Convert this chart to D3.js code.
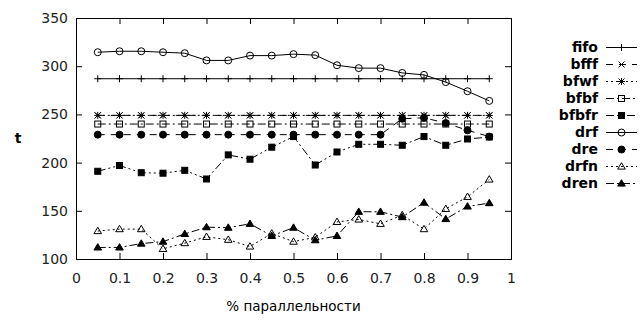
<!DOCTYPE html>
<html>
<head>
<meta charset="utf-8">
<script src="https://cdn.jsdelivr.net/npm/d3@7/dist/d3.min.js"></script>
<style>
  body { margin: 0; background: #fff; }
  svg text { font-family: "DejaVu Sans", sans-serif; }
</style>
</head>
<body>
<div id="chart"></div>
<script>
// x positions of the measured points
const xs = [0.05, 0.1, 0.15, 0.2, 0.25, 0.3, 0.35, 0.4, 0.45, 0.5,
            0.55, 0.6, 0.65, 0.7, 0.75, 0.8, 0.85, 0.9, 0.95];

const fifo  = [287, 287, 287, 287, 287, 287, 287, 287, 287, 287, 287, 287, 287, 287, 287, 287, 287, 287, 287];
const bfff  = [249, 249, 249, 249, 249, 249, 249, 249, 249, 249, 249, 249, 249, 249, 249, 249, 249, 249, 249];
const bfwf  = [249, 249, 249, 249, 249, 249, 249, 249, 249, 249, 249, 249, 249, 249, 249, 249, 249, 249, 249];
const bfbf  = [240, 240, 240, 240, 240, 240, 240, 240, 240, 240, 240, 240, 240, 240, 240, 240, 240, 240, 240];
const bfbfr = [191, 197, 189.5, 189, 192, 183, 208, 203.5, 216, 227, 197.5, 211, 219, 219, 218, 227, 218, 224.5, 226.5];
const drf   = [314.5, 315.5, 315.5, 314.5, 313.5, 306, 306, 311, 311, 312.5, 311.5, 301, 298, 298, 293, 291, 283.5, 274, 264];
const dre   = [229, 229, 229, 229, 229, 229, 229, 229, 229, 229, 229, 229, 229, 229, 245.5, 246.5, 241, 233.5, 227];
const drfn  = [129, 131, 131, 110.5, 116.5, 123, 120, 113, 126.5, 118, 122.5, 138.5, 141, 136.5, 145.5, 131, 152, 164.5, 182.5];
const dren  = [112, 112, 116, 118, 126, 133, 132.5, 136.5, 124, 132.5, 119.5, 124, 149, 149, 143.5, 158.5, 141.5, 154.5, 158];

const seriesNames = ["fifo", "bfff", "bfwf", "bfbf", "bfbfr", "drf", "dre", "drfn", "dren"];
const seriesValues = [fifo, bfff, bfwf, bfbf, bfbfr, drf, dre, drfn, dren];

const xTicks = [0, 0.1, 0.2, 0.3, 0.4, 0.5, 0.6, 0.7, 0.8, 0.9, 1];
const yTicks = [100, 150, 200, 250, 300, 350];

// line style + point type per series (gnuplot-like)
const dashes = [null, "7,6", "2,3", "8,3,2,3", "8,3,2,3,2,3", null, "7,6", "2,3", "8,3,2,3"];
const marks  = ["plus", "cross", "star", "square", "squareF", "circle", "circleF", "tri", "triF"];

const W = 640, H = 320;
const padL = 76, padR = 511, padT = 18, padB = 259;

const svg = d3.select("#chart").append("svg")
    .attr("width", W)
    .attr("height", H);

const x = d3.scaleLinear().domain([0, 1]).range([padL, padR]);
const y = d3.scaleLinear().domain([100, 350]).range([padB, padT]);

// axes with inward ticks on all 4 sides
const fmtX = d => d === 0 || d === 1 ? String(d) : d3.format(".1f")(d);

svg.append("g")
    .attr("transform", `translate(0,${padB})`)
    .call(d3.axisBottom(x).tickValues(xTicks).tickFormat(fmtX).tickSizeInner(-6).tickSizeOuter(0).tickPadding(14));
svg.append("g")
    .attr("transform", `translate(0,${padT})`)
    .call(d3.axisTop(x).tickValues(xTicks).tickFormat("").tickSizeInner(-6).tickSizeOuter(0));
svg.append("g")
    .attr("transform", `translate(${padL},0)`)
    .call(d3.axisLeft(y).tickValues(yTicks).tickSizeInner(-6).tickSizeOuter(0).tickPadding(8));
svg.append("g")
    .attr("transform", `translate(${padR},0)`)
    .call(d3.axisRight(y).tickValues(yTicks).tickFormat("").tickSizeInner(-6).tickSizeOuter(0));

svg.selectAll(".domain").remove();
svg.selectAll(".tick line").attr("stroke", "#000");
svg.selectAll(".tick text")
    .attr("fill", "#222")
    .style("font-size", "14px");

svg.append("rect")
    .attr("x", padL + 0.5).attr("y", padT + 0.5)
    .attr("width", padR - padL).attr("height", padB - padT)
    .attr("fill", "none").attr("stroke", "#000");

// axis titles
svg.append("text")
    .attr("x", (padL + padR) / 2).attr("y", 311)
    .attr("text-anchor", "middle")
    .style("font-size", "13.5px")
    .text("% параллельности");
svg.append("text")
    .attr("x", 18).attr("y", 143)
    .attr("text-anchor", "middle")
    .style("font-size", "14px").style("font-weight", "bold")
    .text("t");

function drawMark(g, type, cx, cy) {
    const s = 3.5;
    if (type === "plus" || type === "star") {
        g.append("path").attr("d", `M${cx - s},${cy}H${cx + s}M${cx},${cy - s}V${cy + s}`)
            .attr("stroke", "#000");
    }
    if (type === "cross" || type === "star") {
        g.append("path").attr("d", `M${cx - 3},${cy - 3}L${cx + 3},${cy + 3}M${cx - 3},${cy + 3}L${cx + 3},${cy - 3}`)
            .attr("stroke", "#000");
    }
    if (type === "square" || type === "squareF") {
        g.append("rect").attr("x", cx - 3).attr("y", cy - 3).attr("width", 6).attr("height", 6)
            .attr("fill", type === "squareF" ? "#000" : "none").attr("stroke", "#000");
    }
    if (type === "circle" || type === "circleF") {
        g.append("circle").attr("cx", cx).attr("cy", cy).attr("r", 3.5)
            .attr("fill", type === "circleF" ? "#000" : "none").attr("stroke", "#000");
    }
    if (type === "tri" || type === "triF") {
        g.append("path").attr("d", `M${cx},${cy - 3.8}L${cx + 3.8},${cy + 2.6}L${cx - 3.8},${cy + 2.6}Z`)
            .attr("fill", type === "triF" ? "#000" : "none").attr("stroke", "#000");
    }
}

const line = d3.line()
    .x((d, i) => x(xs[i]))
    .y(d => y(d));

seriesValues.forEach((vals, k) => {
    const g = svg.append("g");
    g.append("path")
        .datum(vals)
        .attr("d", line)
        .attr("fill", "none")
        .attr("stroke", "#000")
        .attr("stroke-width", 1)
        .attr("stroke-dasharray", dashes[k]);
    vals.forEach((v, i) => drawMark(g, marks[k], x(xs[i]), y(v)));
});

// legend
const legY0 = 47, legStep = 17;
seriesNames.forEach((name, k) => {
    const ly = legY0 + k * legStep;
    const g = svg.append("g");
    g.append("text")
        .attr("x", 598).attr("y", ly).attr("dy", "0.35em")
        .attr("text-anchor", "end")
        .style("font-size", "14px").style("font-weight", "bold")
        .text(name);
    g.append("line")
        .attr("x1", 606).attr("x2", 637).attr("y1", ly + 0.5).attr("y2", ly + 0.5)
        .attr("stroke", "#000")
        .attr("stroke-dasharray", dashes[k]);
    drawMark(g, marks[k], 621.5, ly + 0.5);
});
</script>
</body>
</html>
